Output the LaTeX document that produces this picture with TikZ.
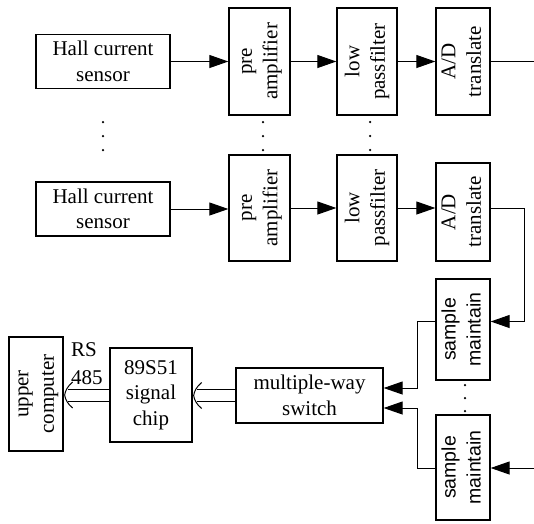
\documentclass[tikz,border=0pt]{standalone}
\usepackage{fontspec}
\setmainfont{Liberation Serif}
\newfontfamily\sansf{Liberation Sans}
\usepackage{graphicx}
\usetikzlibrary{arrows.meta,calc}
\newcommand\vlab[2]{\rotatebox{90}{\begin{tabular}{@{}c@{}}#1\\#2\end{tabular}}}
% hollow double-line arrow: #1 = start point (source), #2 = tip point
\newcommand\hollowarrow[2]{%
  \draw[conn] ($(#2)+(3.5,-6)$) -- ($(#1)+(0,-6)$);
  \draw[conn] ($(#2)+(3.5,6)$) -- ($(#1)+(0,6)$);
  \draw[conn] ($(#2)+(8,-13)$) .. controls ($(#2)+(3,-9)$) and ($(#2)+(0.5,-4)$) .. (#2)
              .. controls ($(#2)+(0.5,4)$) and ($(#2)+(3,9)$) .. ($(#2)+(8,13)$);
}
\begin{document}
\begin{tikzpicture}[x=1pt,y=-1pt,
  box/.style={draw,line width=1.3pt,inner sep=0pt,align=center,font=\fontsize{21}{25.5}\selectfont},
  sbox/.style={box,font=\sansf\fontsize{19.5}{25}\selectfont},
  arr/.style={line width=1pt,-{Triangle[length=19pt,width=13pt]}},
  conn/.style={line width=1pt},
  dot/.style={circle,fill,inner sep=0pt,minimum size=2.5pt}]
\useasboundingbox (0,0) rectangle (534,523);
% row 1
\node[box,minimum width=134pt,minimum height=54pt] (hall1) at (103,61.5) {Hall current\\sensor};
\node[box,minimum width=61pt,minimum height=107pt] (pre1) at (259.5,61.5) {\vlab{pre}{amplifier}};
\node[box,minimum width=60pt,minimum height=107pt] (lp1) at (367,61.5) {\vlab{low}{passfilter}};
\node[box,minimum width=54pt,minimum height=107pt] (ad1) at (463,61.5) {\vlab{A/D}{translate}};
% row 2
\node[box,minimum width=134pt,minimum height=54pt] (hall2) at (103,209) {Hall current\\sensor};
\node[box,minimum width=61pt,minimum height=106pt] (pre2) at (259.5,208) {\vlab{pre}{amplifier}};
\node[box,minimum width=60pt,minimum height=106pt] (lp2) at (367,208) {\vlab{low}{passfilter}};
\node[box,minimum width=54pt,minimum height=98pt] (ad2) at (463,212) {\vlab{A/D}{translate}};
% sample maintain
\node[sbox,minimum width=54pt,minimum height=101pt] (sm1) at (463,329.5) {\vlab{sample}{maintain}};
\node[sbox,minimum width=54pt,minimum height=105pt] (sm2) at (463,467.5) {\vlab{sample}{maintain}};
% bottom chain
\node[box,minimum width=147pt,minimum height=55pt] (sw) at (309.5,395.5) {multiple-way\\switch};
\node[box,minimum width=82pt,minimum height=94pt] (chip) at (151,395) {89S51\\signal\\chip};
\node[box,minimum width=54pt,minimum height=114pt] (upc) at (36,394) {\vlab{upper}{computer}};
\node[anchor=west,align=left,inner sep=0pt,font=\fontsize{21}{28}\selectfont] (rs) at (71,364) {RS\\485};
% dots
\foreach \x/\n in {103/a,263/b,370/c}{
  \node[dot] (\n1) at (\x,122) {};
  \node[dot] (\n2) at (\x,136) {};
  \node[dot] (\n3) at (\x,150) {};
}
\node[dot] (s1) at (465,385) {};
\node[dot] (s2) at (465,398) {};
\node[dot] (s3) at (465,411) {};
% connectors row 1
\draw[arr] (hall1.east) -- (hall1.east -| pre1.west);
\draw[arr] (pre1.east) -- (lp1.west);
\draw[arr] (lp1.east) -- (ad1.west);
\coordinate (e1) at (534,61.5);
\draw[conn] (ad1.east) -- (e1);
% connectors row 2
\draw[arr] (hall2.east) -- (hall2.east -| pre2.west);
\draw[arr] (pre2.east) -- (lp2.west);
\draw[arr] (lp2.east) -- (lp2.east -| ad2.west);
\coordinate (j1) at (524,321.5);
\draw[arr] (ad2.east |- lp2.east) -| (j1) -- (j1 -| sm1.east);
\coordinate (j2) at (534,468);
\draw[arr] (j2) -- (j2 -| sm2.east);
\coordinate (k1) at (417,388);
\coordinate (k2) at (417,408);
\draw[arr] (j1 -| sm1.west) -| (k1) -- (k1 -| sw.east);
\draw[arr] (j2 -| sm2.west) -| (k2) -- (k2 -| sw.east);
% hollow double arrows
\coordinate (t1) at ($(sw.west -| chip.east)+(1,0)$);
\hollowarrow{sw.west}{t1}
\coordinate (t2) at ($(chip.west -| upc.east)+(1,0)$);
\hollowarrow{chip.west}{t2}
\end{tikzpicture}
\end{document}
